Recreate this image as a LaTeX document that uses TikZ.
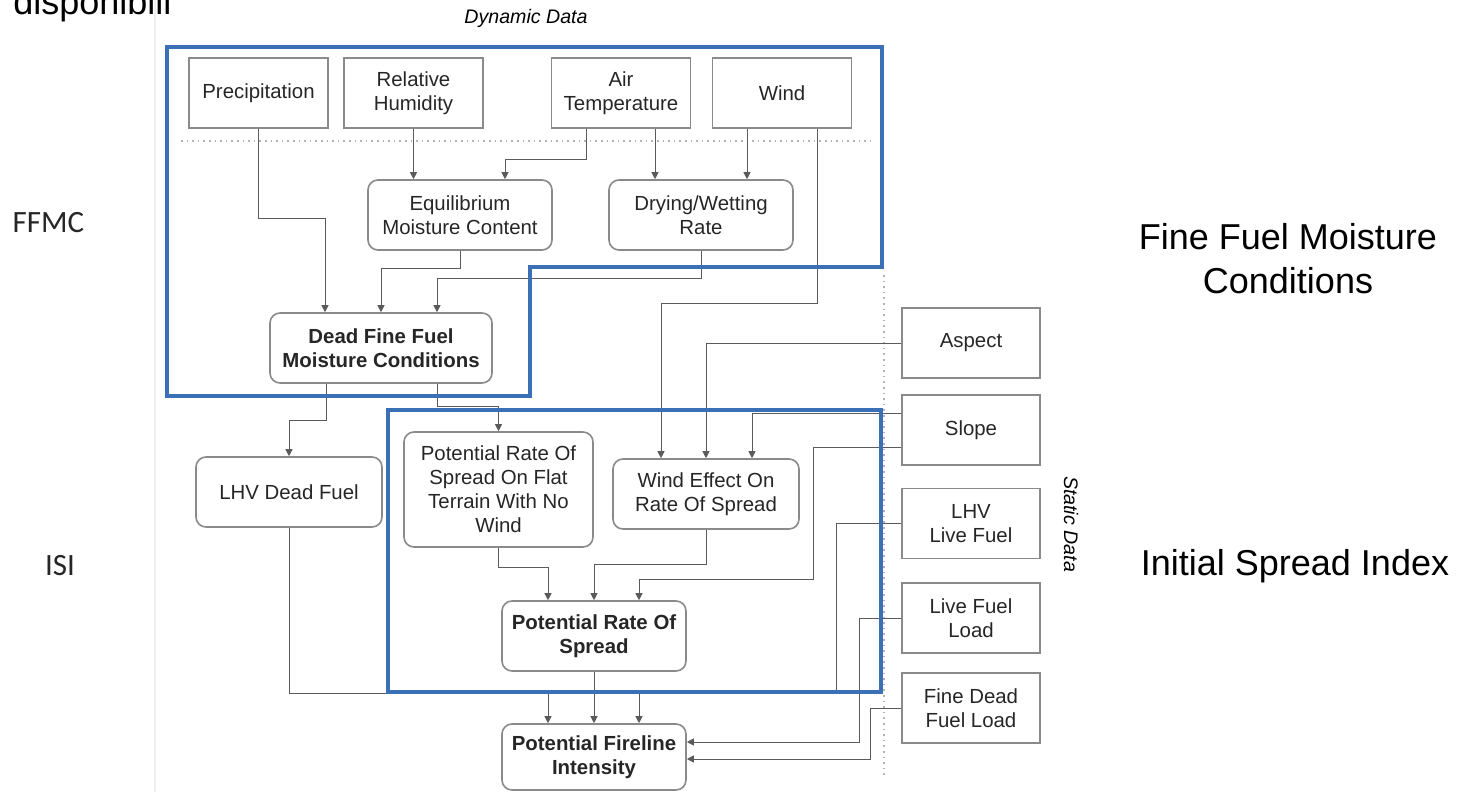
\documentclass[tikz,border=0pt]{standalone}
\usepackage{fontspec}
\setmainfont{Liberation Sans}
\newfontfamily\calib{Carlito}
\usetikzlibrary{calc,arrows.meta}

\definecolor{frameblue}{HTML}{3B6FB6}
\definecolor{boxgray}{HTML}{8A8A8A}
\definecolor{linegray}{HTML}{5A5A5A}

\begin{document}
\begin{tikzpicture}[x=0.5pt,y=-0.5pt,
  box/.style={draw=boxgray,line width=0.8pt,align=center,inner sep=2pt,text=black!85,font=\fontsize{10.2}{12}\selectfont},
  dyn/.style={box,minimum width=69.5pt,minimum height=35pt},
  stat/.style={box,minimum width=69pt,minimum height=35pt},
  rbox/.style={box,rounded corners=5pt,minimum width=92pt,minimum height=35pt},
  bbox/.style={rbox,font=\fontsize{10.2}{12}\selectfont\bfseries},
  flow/.style={draw=linegray,line width=0.5pt,-{Triangle[length=3.5pt,width=3.5pt]}},
  blueframe/.style={draw=frameblue,line width=1.6pt},
  dotsep/.style={draw=gray!60,line width=0.8pt,dotted},
  big/.style={font=\fontsize{18}{22}\selectfont,align=center,inner sep=0pt},
  side/.style={anchor=base,font=\calib\fontsize{15.5}{18}\selectfont,text=black!85}]
 \useasboundingbox (0,0) rectangle (1458,792);
 \draw[gray!12,line width=1pt] (155,0) -- (155,792);
 \node[big,anchor=base west] (disp) at (13,15) {disponibili};
 \node[font=\fontsize{9.8}{12}\selectfont\itshape] (dynlbl) at (526,18) {Dynamic Data};
 \node[rotate=-90,font=\fontsize{9.8}{12}\selectfont\itshape] (statlbl) at (1071,524) {Static Data};
 \node[side] (ffmc) at (48.5,233) {FFMC};
 \node[side] (isi) at (60,575) {ISI};
 \node[big] (fuellbl) at (1288,259) {Fine Fuel Moisture\\Conditions};
 \node[big,anchor=base] (isilbl) at (1295,575) {Initial Spread Index};
 % separators
 \draw[dotsep] (181,141) -- (870,141);
 \draw[dotsep] (884,275) -- (884,778);
 % dynamic inputs
 \node[dyn] (precip) at (258.5,93) {Precipitation};
 \node[dyn] (relhum) at (413.5,93) {Relative\\Humidity};
 \node[dyn] (airtemp) at (621,93) {Air\\Temperature};
 \node[dyn] (wind) at (782,93) {Wind};
 % static inputs
 \node[stat] (aspect) at (971,343) {Aspect};
 \node[stat] (slope) at (971,430) {Slope};
 \node[stat] (lhvlive) at (971,523.5) {LHV\\Live Fuel};
 \node[stat] (livefuel) at (971,618) {Live Fuel\\Load};
 \node[stat] (finedead) at (971,708) {Fine Dead\\Fuel Load};
 % model blocks
 \node[rbox] (emc) at (460,215) {Equilibrium\\Moisture Content};
 \node[rbox] (dwr) at (701,215) {Drying/Wetting\\Rate};
 \node[bbox,minimum width=111pt] (dffmc) at (381,348) {Dead Fine Fuel\\Moisture Conditions};
 \node[rbox,minimum width=93pt] (lhvdead) at (289,492) {LHV Dead Fuel};
 \node[rbox,minimum width=94.5pt,minimum height=57.5pt] (prosflat) at (498.5,489.5) {Potential Rate Of\\Spread On Flat\\Terrain With No\\Wind};
 \node[rbox,minimum width=93pt] (windeff) at (706,494) {Wind Effect On\\Rate Of Spread};
 \node[bbox] (pros) at (594,636) {Potential Rate Of\\Spread};
 \node[bbox,minimum height=33pt] (pfi) at (594,757) {Potential Fireline\\Intensity};
 % connectors
 \draw[flow] (precip.south) -- ++(0,90) -| ($(dffmc.north)+(-56,0)$);
 \draw[flow] (relhum.south) -- (relhum.south |- emc.north);
 \draw[flow] ($(airtemp.south)+(-35,0)$) -- ++(0,31) -| ($(emc.north)+(45,0)$);
 \draw[flow] ($(airtemp.south)+(34,0)$) -- ($(dwr.north)+(-46,0)$);
 \draw[flow] ($(wind.south)+(-35,0)$) -- ($(dwr.north)+(46,0)$);
 \draw[flow] ($(wind.south)+(35,0)$) -- ++(0,175) -| ($(windeff.north)+(-45,0)$);
 \draw[flow] (emc.south) -- ++(0,18) -| (dffmc.north);
 \draw[flow] (dwr.south) -- ++(0,28) -| ($(dffmc.north)+(56,0)$);
 \draw[flow] ($(dffmc.south)+(-55,0)$) -- ++(0,37) -| (lhvdead.north);
 \draw[flow] ($(dffmc.south)+(56,0)$) -- ++(0,23) -| (prosflat.north);
 \draw[flow] (aspect.west) -| (windeff.north);
 \draw[flow] ($(slope.west)+(0,-17)$) -| ($(windeff.north)+(46,0)$);
 \draw[flow] ($(slope.west)+(0,17)$) -- ++(-88,0) -- ++(0,132) -| ($(pros.north)+(45,0)$);
 \draw[flow] (prosflat.south) -- ++(0,20) -| ($(pros.north)+(-46,0)$);
 \draw[flow] (windeff.south) -- ++(0,35) -| (pros.north);
 \draw[flow] (lhvdead.south) -- ++(0,166) -| ($(pfi.north)+(-46,0)$);
 \draw[flow] (pros.south) -- (pfi.north);
 \draw[flow] (lhvlive.west) -- ++(-65,0) -- ++(0,169.5) -| ($(pfi.north)+(45,0)$);
 \draw[flow] (livefuel.west) -- ++(-42,0) |- ($(pfi.east)+(0,-15)$);
 \draw[flow] (finedead.west) -- ++(-31,0) |- ($(pfi.east)+(0,2)$);
 % index frames
 \draw[blueframe] (167,47) -- (882,47) -- (882,267) -- (530,267) -- (530,396) -- (167,396) -- cycle;
 \draw[blueframe] (388,410) rectangle (881,692);
\end{tikzpicture}
\end{document}
